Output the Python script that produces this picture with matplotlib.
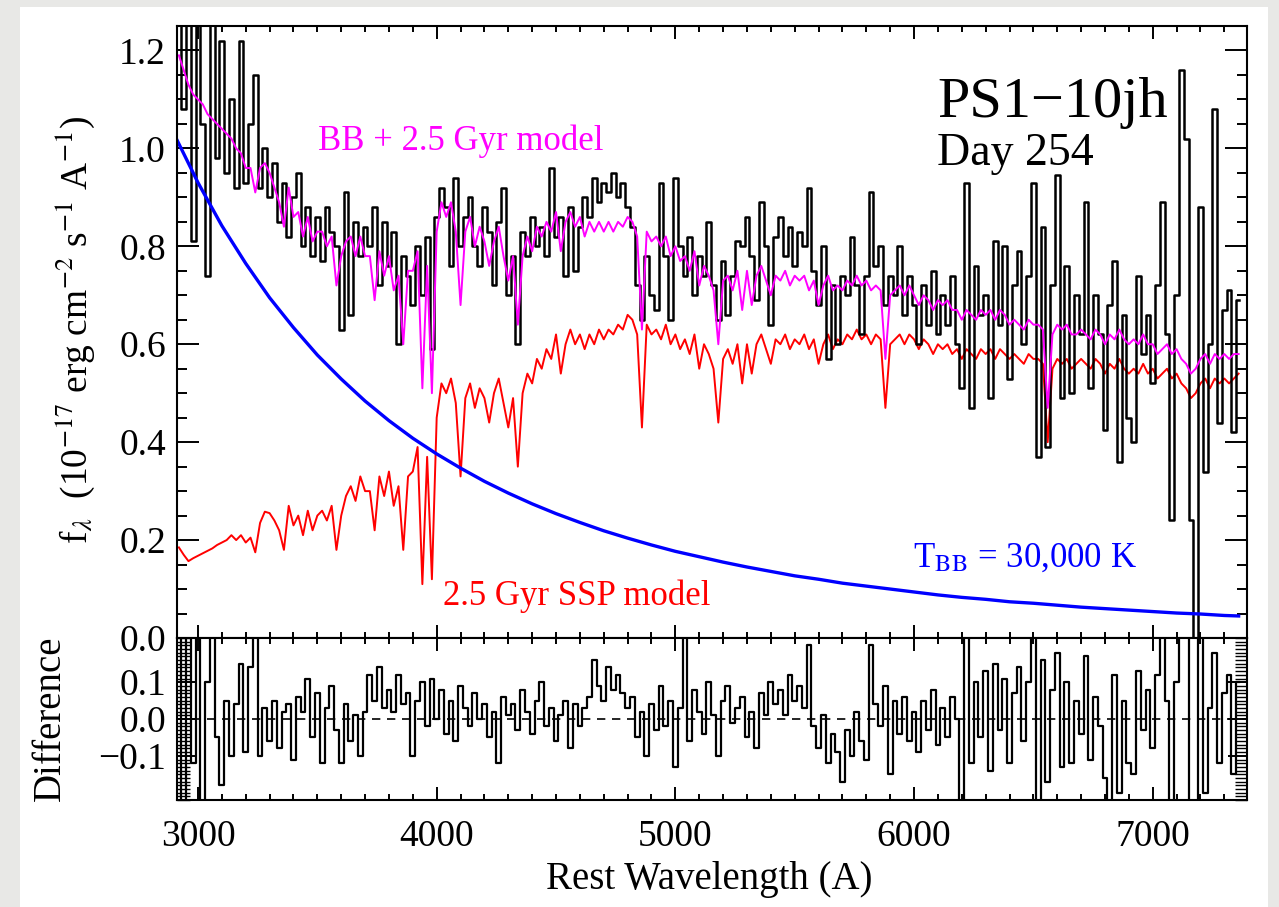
import numpy as np
import matplotlib
matplotlib.use("Agg")
import matplotlib.pyplot as plt
from matplotlib.ticker import MultipleLocator, FixedLocator
from matplotlib.patches import Rectangle

plt.rcParams['font.family'] = ['Liberation Serif', 'DejaVu Serif']
plt.rcParams['mathtext.fontset'] = 'stix'

# rest wavelength grid (A), 20 A bins
wave = np.arange(2920, 7361, 20)

# observed spectrum (black)
obs = [
    1.30, 1.08, 1.32, 0.81, 1.28, 1.05, 0.74, 1.30, 0.98, 1.22,
    0.95, 1.10, 0.92, 1.22, 0.93, 1.05, 1.15, 0.92, 1.00, 0.90,
    0.97, 0.85, 0.93, 0.82, 0.90, 0.95, 0.80, 0.88, 0.78, 0.86,
    0.77, 0.88, 0.83, 0.80, 0.63, 0.91, 0.66, 0.85, 0.78, 0.84,
    0.80, 0.88, 0.72, 0.85, 0.76, 0.83, 0.60, 0.78, 0.74, 0.68,
    0.80, 0.70, 0.82, 0.59, 0.86, 0.92, 0.88, 0.76, 0.94, 0.80,
    0.86, 0.90, 0.80, 0.76, 0.88, 0.83, 0.72, 0.85, 0.92, 0.70,
    0.78, 0.60, 0.83, 0.78, 0.86, 0.80, 0.84, 0.78, 0.96, 0.82,
    0.86, 0.74, 0.88, 0.75, 0.84, 0.90, 0.86, 0.94, 0.89, 0.93,
    0.91, 0.95, 0.90, 0.93, 0.88, 0.84, 0.72, 0.65, 0.78, 0.70,
    0.67, 0.93, 0.78, 0.65, 0.94, 0.80, 0.74, 0.82, 0.70, 0.78,
    0.74, 0.85, 0.72, 0.65, 0.77, 0.66, 0.74, 0.81, 0.80, 0.86,
    0.78, 0.69, 0.89, 0.80, 0.64, 0.82, 0.86, 0.78, 0.84, 0.76,
    0.83, 0.80, 0.92, 0.75, 0.68, 0.80, 0.57, 0.72, 0.60, 0.74,
    0.70, 0.82, 0.72, 0.62, 0.74, 0.91, 0.76, 0.80, 0.68, 0.74,
    0.70, 0.80, 0.66, 0.74, 0.68, 0.60, 0.72, 0.64, 0.75, 0.62,
    0.70, 0.64, 0.74, 0.60, 0.51, 0.93, 0.47, 0.76, 0.66, 0.70,
    0.49, 0.81, 0.64, 0.80, 0.53, 0.72, 0.79, 0.60, 0.74, 0.93,
    0.37, 0.84, 0.39, 0.72, 0.945, 0.49, 0.76, 0.50, 0.70, 0.62,
    0.89, 0.51, 0.70, 0.62, 0.425, 0.68, 0.77, 0.36, 0.66, 0.45,
    0.40, 0.74, 0.58, 0.66, 0.52, 0.72, 0.89, 0.62, 0.24, 0.70,
    1.16, 1.02, 0.24, -0.05, 0.88, 0.34, 0.60, 1.08, 0.44, 0.67,
    0.71, 0.42, 0.69,
]

# 2.5 Gyr SSP model (red)
ssp = [
    0.185, 0.170, 0.157, 0.163, 0.168, 0.173, 0.178, 0.183, 0.190, 0.195,
    0.200, 0.210, 0.200, 0.210, 0.195, 0.205, 0.175, 0.235, 0.258, 0.255,
    0.24, 0.22, 0.18, 0.27, 0.23, 0.25, 0.21, 0.26, 0.22, 0.25,
    0.26, 0.24, 0.27, 0.18, 0.25, 0.29, 0.31, 0.28, 0.33, 0.30,
    0.30, 0.22, 0.33, 0.29, 0.34, 0.27, 0.31, 0.18, 0.33, 0.34,
    0.39, 0.11, 0.37, 0.12, 0.45, 0.52, 0.50, 0.53, 0.48, 0.33,
    0.49, 0.52, 0.47, 0.51, 0.49, 0.44, 0.50, 0.53, 0.48, 0.43,
    0.49, 0.35, 0.50, 0.54, 0.52, 0.57, 0.55, 0.59, 0.57, 0.62,
    0.54, 0.60, 0.63, 0.60, 0.62, 0.59, 0.62, 0.60, 0.63, 0.61,
    0.63, 0.62, 0.64, 0.63, 0.66, 0.65, 0.62, 0.43, 0.64, 0.62,
    0.63, 0.61, 0.64, 0.60, 0.62, 0.59, 0.61, 0.58, 0.62, 0.55,
    0.60, 0.58, 0.55, 0.44, 0.57, 0.59, 0.56, 0.60, 0.52, 0.60,
    0.54, 0.60, 0.62, 0.59, 0.56, 0.61, 0.60, 0.62, 0.59, 0.61,
    0.60, 0.62, 0.59, 0.61, 0.56, 0.60, 0.62, 0.59, 0.61, 0.60,
    0.62, 0.61, 0.63, 0.61, 0.62, 0.60, 0.62, 0.61, 0.47, 0.60,
    0.61, 0.62, 0.60, 0.62, 0.61, 0.59, 0.61, 0.60, 0.58, 0.60,
    0.59, 0.60, 0.58, 0.59, 0.57, 0.59, 0.58, 0.57, 0.59, 0.58,
    0.59, 0.57, 0.59, 0.58, 0.57, 0.58, 0.57, 0.56, 0.58, 0.57,
    0.57, 0.56, 0.40, 0.55, 0.57, 0.56, 0.57, 0.55, 0.56, 0.57,
    0.56, 0.55, 0.57, 0.56, 0.54, 0.56, 0.55, 0.57, 0.55, 0.54,
    0.55, 0.54, 0.56, 0.54, 0.55, 0.53, 0.54, 0.55, 0.53, 0.54,
    0.52, 0.51, 0.49, 0.50, 0.52, 0.53, 0.51, 0.53, 0.52, 0.53,
    0.52, 0.53, 0.54,
]

# BB + 2.5 Gyr model (magenta)
model = [
    1.19, 1.16, 1.13, 1.11, 1.10, 1.09, 1.07, 1.06, 1.05, 1.04,
    1.03, 1.02, 1.00, 0.99, 0.96, 0.96, 0.91, 0.96, 0.97, 0.95,
    0.92, 0.89, 0.84, 0.92, 0.86, 0.87, 0.82, 0.86, 0.81, 0.83,
    0.83, 0.80, 0.82, 0.72, 0.78, 0.81, 0.82, 0.78, 0.82, 0.78,
    0.78, 0.69, 0.79, 0.74, 0.78, 0.71, 0.74, 0.60, 0.75, 0.75,
    0.79, 0.51, 0.76, 0.50, 0.83, 0.89, 0.86, 0.89, 0.83, 0.68,
    0.83, 0.86, 0.80, 0.84, 0.81, 0.76, 0.81, 0.84, 0.78, 0.73,
    0.78, 0.64, 0.78, 0.82, 0.79, 0.84, 0.82, 0.85, 0.83, 0.87,
    0.79, 0.85, 0.87, 0.84, 0.86, 0.82, 0.85, 0.83, 0.85, 0.83,
    0.85, 0.83, 0.85, 0.84, 0.86, 0.85, 0.82, 0.63, 0.83, 0.81,
    0.82, 0.80, 0.82, 0.78, 0.80, 0.77, 0.78, 0.75, 0.79, 0.72,
    0.76, 0.74, 0.71, 0.60, 0.73, 0.74, 0.71, 0.75, 0.67, 0.75,
    0.68, 0.74, 0.76, 0.73, 0.70, 0.74, 0.73, 0.75, 0.72, 0.74,
    0.73, 0.74, 0.71, 0.73, 0.68, 0.72, 0.74, 0.71, 0.72, 0.71,
    0.73, 0.72, 0.74, 0.72, 0.73, 0.71, 0.72, 0.71, 0.57, 0.70,
    0.71, 0.72, 0.70, 0.72, 0.70, 0.68, 0.70, 0.69, 0.67, 0.69,
    0.68, 0.69, 0.67, 0.67, 0.65, 0.67, 0.66, 0.65, 0.67, 0.66,
    0.67, 0.65, 0.67, 0.66, 0.64, 0.65, 0.64, 0.63, 0.65, 0.64,
    0.64, 0.63, 0.47, 0.62, 0.64, 0.63, 0.64, 0.62, 0.62, 0.63,
    0.62, 0.61, 0.63, 0.62, 0.60, 0.62, 0.61, 0.63, 0.61, 0.60,
    0.61, 0.60, 0.62, 0.60, 0.60, 0.58, 0.59, 0.60, 0.58, 0.59,
    0.57, 0.56, 0.54, 0.55, 0.57, 0.58, 0.56, 0.58, 0.57, 0.58,
    0.57, 0.58, 0.58,
]

# data - model residuals
diff = [
    0.30, -0.30, 0.30, -0.12, 0.24, -0.30, 0.10, 0.30, -0.05, -0.18,
    0.05, -0.10, 0.04, 0.15, -0.09, 0.14, 0.30, -0.10, 0.03, -0.06,
    0.05, -0.08, 0.02, 0.04, -0.11, 0.06, 0.02, 0.11, -0.05, 0.07,
    -0.12, 0.03, 0.09, -0.03, -0.12, 0.04, -0.06, 0.01, -0.10, 0.02,
    0.12, 0.05, 0.14, 0.03, 0.08, 0.02, 0.12, 0.04, 0.07, -0.10,
    0.05, 0.10, -0.02, 0.11, 0.00, 0.08, -0.04, 0.05, -0.06, 0.09,
    0.03, -0.02, 0.07, 0.00, 0.04, -0.05, 0.02, -0.12, 0.06, 0.01,
    0.04, -0.03, 0.08, 0.02, -0.04, 0.05, 0.10, -0.02, 0.03, -0.06,
    0.01, 0.05, -0.08, 0.04, -0.02, 0.03, 0.06, 0.16, 0.09, 0.05,
    0.14, 0.08, 0.12, 0.07, 0.03, 0.06, -0.05, 0.02, -0.10, 0.04,
    -0.03, 0.09, -0.02, 0.05, -0.13, 0.03, 0.24, -0.06, 0.08, 0.02,
    -0.04, 0.10, 0.01, -0.10, 0.05, 0.09, -0.01, 0.03, 0.06, -0.05,
    0.02, -0.08, 0.07, 0.01, 0.10, 0.04, 0.08, 0.01, 0.12, 0.05,
    0.09, 0.03, 0.20, -0.02, -0.08, 0.01, -0.12, -0.04, -0.09, -0.17,
    -0.03, -0.10, 0.02, -0.06, -0.11, 0.20, 0.04, -0.02, 0.09, -0.15,
    0.05, -0.04, 0.06, -0.06, 0.02, -0.09, 0.05, -0.03, 0.08, -0.07,
    0.03, -0.05, 0.06, 0.00, -0.30, 0.30, -0.12, 0.10, -0.05, 0.13,
    -0.14, 0.15, -0.03, 0.11, -0.12, 0.07, 0.14, -0.06, 0.10, 0.30,
    -0.30, 0.16, -0.17, 0.08, 0.18, -0.13, 0.10, -0.12, 0.05, -0.04,
    0.17, -0.11, 0.06, -0.02, -0.16, -0.30, 0.12, -0.20, 0.05, -0.12,
    -0.15, 0.13, -0.03, 0.08, -0.08, 0.12, 0.30, 0.05, -0.30, 0.10,
    0.30, 0.30, -0.30, -0.30, 0.30, -0.20, 0.03, 0.18, -0.12, 0.07,
    0.12, -0.15, 0.10,
]

# 30,000 K blackbody (blue)
bb_wave = list(range(2900, 7301, 100)) + [7360]
bb_flux = [1.029, 0.930, 0.842, 0.765, 0.695, 0.634, 0.578, 0.529, 0.484, 0.444,
           0.408, 0.376, 0.347, 0.320, 0.296, 0.274, 0.254, 0.236, 0.219, 0.204,
           0.190, 0.177, 0.166, 0.155, 0.145, 0.136, 0.127, 0.120, 0.112, 0.106,
           0.100, 0.094, 0.088, 0.083, 0.079, 0.074, 0.071, 0.067, 0.063, 0.060,
           0.057, 0.054, 0.051, 0.049, 0.046, 0.045]

W, H = 1279, 907
fig = plt.figure(figsize=(W / 100, H / 100), dpi=100, facecolor='#e8e8e6')
fig.add_artist(Rectangle((20 / W, 0), 1248 / W, 1 - 7 / H, transform=fig.transFigure,
                         facecolor='white', edgecolor='none', zorder=-5))

ax = fig.add_axes([177 / W, 1 - 638 / H, 1070 / W, 612 / H])
ax2 = fig.add_axes([177 / W, 1 - 800 / H, 1070 / W, 162 / H])

ax.plot(wave, ssp, color='#ff0000', lw=1.4)
ax.plot(wave, obs, color='black', lw=1.8, drawstyle='steps-mid')
ax.plot(wave, model, color='#ff00ff', lw=1.4)
ax.plot(bb_wave, bb_flux, color='#0000ff', lw=2.4)
ax.set_xlim(2912, 7395)
ax.set_ylim(0, 1.25)

ax2.plot(wave, diff, color='black', lw=1.6, drawstyle='steps-mid')
ax2.axhline(0, color='black', lw=1.2, ls=(0, (5, 4)))
ax2.set_xlim(2912, 7395)
ax2.set_ylim(-0.22, 0.22)

for a in (ax, ax2):
    a.xaxis.set_major_locator(MultipleLocator(1000))
    a.xaxis.set_minor_locator(MultipleLocator(100))
    a.tick_params(which='both', direction='in', top=True, right=True, width=1.4,
                  labelsize=27)
    a.tick_params(axis='x', which='major', length=9.5)
    a.tick_params(axis='x', which='minor', length=4.5)
    for s in a.spines.values():
        s.set_linewidth(1.5)

ax.yaxis.set_major_locator(MultipleLocator(0.2))
ax.yaxis.set_minor_locator(MultipleLocator(0.05))
ax.tick_params(axis='y', which='major', length=16, pad=8)
ax.tick_params(axis='y', which='minor', length=7.5)
ax.tick_params(labelbottom=False)

ax2.yaxis.set_major_locator(FixedLocator([-0.1, 0.0, 0.1]))
ax2.yaxis.set_minor_locator(MultipleLocator(0.01))
ax2.tick_params(axis='y', which='major', length=14, pad=8)
ax2.tick_params(axis='y', which='minor', length=9, width=1.0)
ax2.tick_params(axis='x', pad=14)


def fx(x):
    return x / W


def fy(y):
    return 1 - y / H


fig.text(fx(937), fy(117), 'PS1\u221210jh', fontsize=42, va='baseline')
fig.text(fx(937), fy(165), 'Day 254', fontsize=33, va='baseline')
fig.text(fx(318), fy(150), 'BB + 2.5 Gyr model', color='#ff00ff', fontsize=25, va='baseline')
fig.text(fx(443), fy(605), '2.5 Gyr SSP model', color='#ff0000', fontsize=25, va='baseline')
fig.text(fx(913), fy(567), r'T$_{\rm BB}$ = 30,000 K', color='#0000ff', fontsize=25, va='baseline')

fig.text(fx(75), fy(330),
         r'f$_\lambda$  (10$^{-17}$ erg cm$^{-2}$ s$^{-1}$ A$^{-1}$)',
         rotation=90, ha='center', va='center', fontsize=27)
fig.text(fx(50), fy(718), 'Difference', rotation=90, ha='center', va='center', fontsize=28)
fig.text(fx(709), fy(880), 'Rest Wavelength (A)', ha='center', va='center', fontsize=28)

fig.savefig('out.png', dpi=100, facecolor=fig.get_facecolor())
